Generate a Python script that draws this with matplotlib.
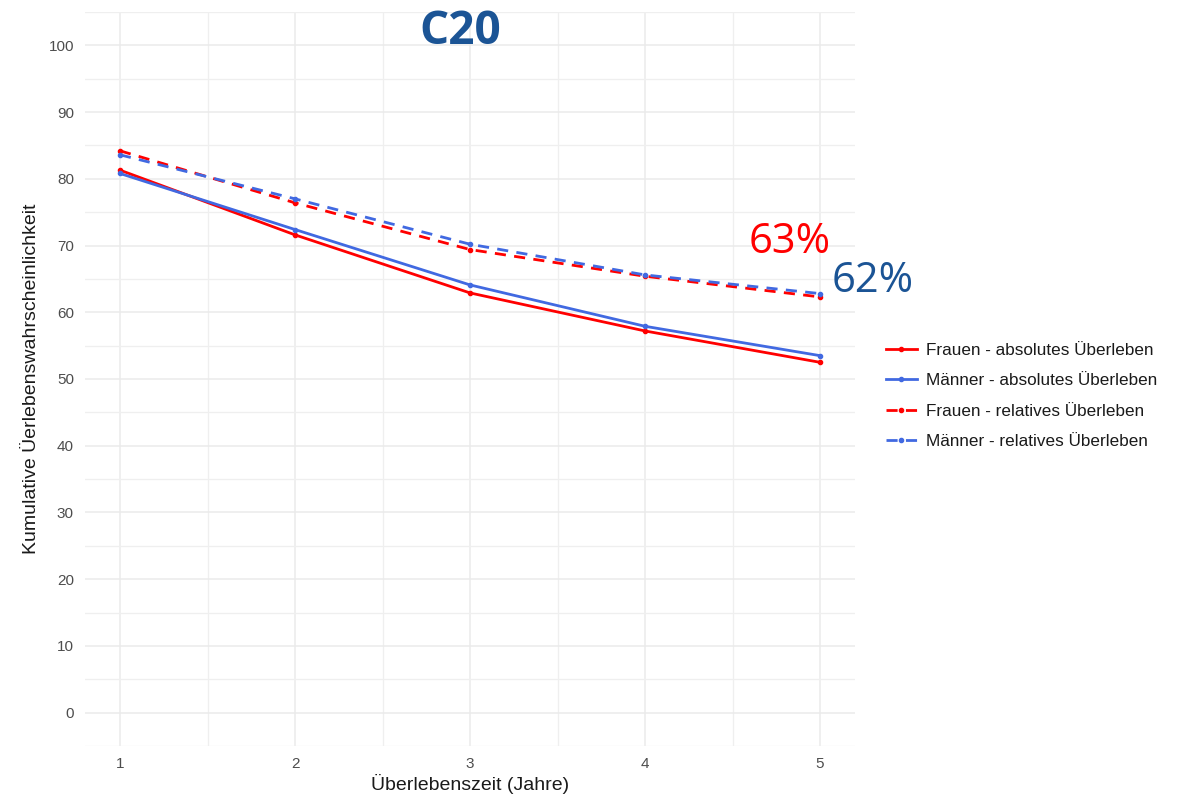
import matplotlib
matplotlib.use("Agg")
import matplotlib.pyplot as plt
from matplotlib.ticker import MultipleLocator

years = [1, 2, 3, 4, 5]
frauen_abs = [81.3, 71.6, 62.9, 57.2, 52.5]
maenner_abs = [80.8, 72.4, 64.1, 57.9, 53.5]
frauen_rel = [84.2, 76.4, 69.4, 65.4, 62.3]
maenner_rel = [83.6, 77.0, 70.2, 65.6, 62.8]
labels = ["Frauen - absolutes Überleben", "Männer - absolutes Überleben",
          "Frauen - relatives Überleben", "Männer - relatives Überleben"]

RED = "#FF0000"
BLUE = "#4169E1"
NAVY = "#1B5495"

plt.rcParams["font.family"] = ["Liberation Sans", "DejaVu Sans"]

fig = plt.figure(figsize=(11.91, 8), dpi=100)
ax = fig.add_axes([85/1191, 1-746/800, (855-85)/1191, (746-12)/800])

ax.plot(years, frauen_abs, color=RED, lw=2, marker="o", ms=3, label=labels[0])
ax.plot(years, maenner_abs, color=BLUE, lw=2, marker="o", ms=3, label=labels[1])
ax.plot(years, frauen_rel, color=RED, lw=2, ls=(0, (4, 3)), marker="o", ms=3, label=labels[2])
ax.plot(years, maenner_rel, color=BLUE, lw=2, ls=(0, (4, 3)), marker="o", ms=3, label=labels[3])

ax.set_xlim(0.8, 5.2)
ax.set_ylim(-5, 105)
ax.xaxis.set_major_locator(MultipleLocator(1))
ax.xaxis.set_minor_locator(MultipleLocator(0.5))
ax.yaxis.set_major_locator(MultipleLocator(10))
ax.yaxis.set_minor_locator(MultipleLocator(5))
ax.grid(which="major", color="#EBEBEB", lw=1.1)
ax.grid(which="minor", color="#EFEFEF", lw=0.9)
ax.set_axisbelow(True)
for s in ax.spines.values():
    s.set_visible(False)
ax.tick_params(which="both", length=0, labelsize=11, labelcolor="#4D4D4D", pad=8)

ax.set_xlabel("Überlebenszeit (Jahre)", fontsize=14, color="#1A1A1A", labelpad=2)
ax.set_ylabel("Kumulative Üerlebenswahrscheinlichkeit", fontsize=14, color="#1A1A1A", labelpad=6)

leg = fig.legend(*ax.get_legend_handles_labels(), loc="center left",
                 bbox_to_anchor=(886/1191, 1-396/800), frameon=False,
                 fontsize=12.3, handlelength=1.8, handletextpad=0.55,
                 labelspacing=0.9, borderaxespad=0, borderpad=0)
for t in leg.get_texts():
    t.set_color("#1A1A1A")

fig.text(460/1191, 1-31/800, "C20", fontsize=33, fontweight="bold", color=NAVY,
         family="Open Sans", ha="center", va="center")
fig.text(790/1191, 1-242/800, "63%", fontsize=30, color=RED,
         family="Open Sans", ha="center", va="center")
fig.text(873/1191, 1-281/800, "62%", fontsize=30, color=NAVY,
         family="Open Sans", ha="center", va="center")

fig.savefig("out.png", dpi=100, facecolor="white")
